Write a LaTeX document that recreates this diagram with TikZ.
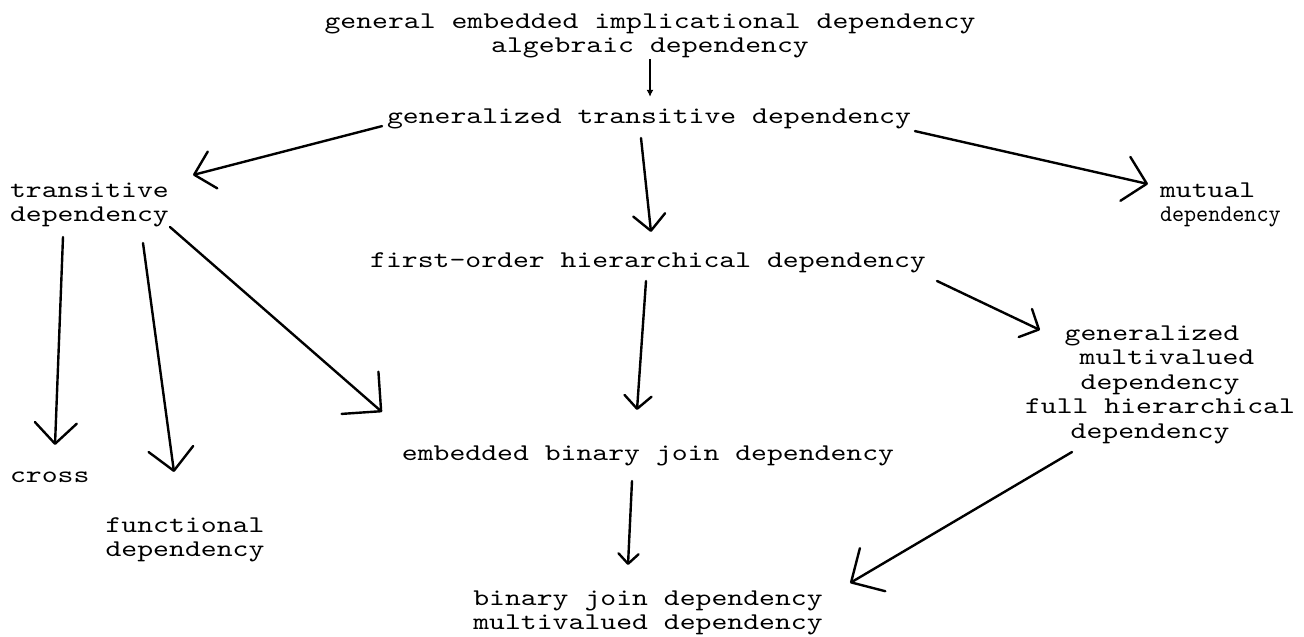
\documentclass[tikz,border=0pt]{standalone}
\usepackage{fontspec}
\usepackage{graphicx}
\usetikzlibrary{arrows.meta}
% wide typewriter face for all labels
\newfontfamily\dfont{lmmono10-regular.otf}[FakeStretch=1.26]
\begin{document}
\begin{tikzpicture}[x=1pt,y=-1pt,
  lbl/.style={font=\dfont\fontsize{24}{24.5}\selectfont, inner sep=0pt, outer sep=0pt},
  link/.style={line width=2.4pt, line cap=round, line join=round},
  barb/.style n args={2}{link, -{Straight Barb[length=#1pt,width=#2pt,line cap=round,line join=round]}}
]
\fill[white] (0,0) rectangle (1304,637);
\useasboundingbox (0,0) rectangle (1304,637);

% nodes (north anchor sits 0.7 baselineskip above the first baseline)
\node[lbl, align=center, anchor=north] (top) at (650,10.85)
  {\strut general embedded implicational dependency\\algebraic dependency\strut};
\node[lbl, anchor=north] (gtd) at (649,105.85) {\strut generalized transitive dependency};
\node[lbl, align=left, anchor=north west] (tr) at (10,179.85) {\strut transitive\\dependency\strut};
\node[lbl, align=left, anchor=north west] (mu) at (1160,179.85)
  {\strut mutual\\\scalebox{0.76}[1]{dependency}\strut};
\node[lbl, anchor=north] (fo) at (648,249.85) {\strut first-order hierarchical dependency};
\node[lbl, align=center, anchor=north] (gm) at (1160,322.85)
  {\strut generalized\hspace*{16pt}\\\hspace*{14pt}multivalued\\dependency\\full hierarchical\\dependency\hspace*{20pt}\strut};
\node[lbl, anchor=north] (eb) at (648,442.85) {\strut embedded binary join dependency};
\node[lbl, anchor=north west] (cr) at (10,464.85) {\strut cross};
\node[lbl, align=center, anchor=north] (fn) at (185,514.85) {\strut functional\\dependency\strut};
\node[lbl, align=center, anchor=north] (bj) at (648,587.85)
  {\strut binary join dependency\\multivalued dependency\strut};

% connectors
\draw[line width=2pt, -{Latex[length=7pt,width=7pt]}]
  ([shift={(0,-1)}]top.south) -- ([shift={(1,-9)}]gtd.north);
\draw[barb={19}{38}] ([shift={(-5,8)}]gtd.west) -- ([shift={(24.2,-4.85)}]tr.north east);
\draw[barb={22}{45}] ([shift={(4,13)}]gtd.east) -- ([shift={(-12,-20.35)}]mu.west);
\draw[barb={16}{32}] ([shift={(-8,7.65)}]gtd.south) -- ([shift={(3,-17.85)}]fo.north);
\draw[barb={21}{42}] ([shift={(53,8.15)}]tr.south west) -- ([shift={(45,-19.85)}]cr.north west);
\draw[barb={22}{45}] ([shift={(133,14.15)}]tr.south west) -- ([shift={(-11,-42.85)}]fn.north);
\draw[barb={28}{56}] ([shift={(1.2,-1.85)}]tr.south east) -- ([shift={(-19.9,-30.85)}]eb.north west);
\draw[barb={13}{27}] ([shift={(-2,6.65)}]fo.south) -- ([shift={(-11,-32.85)}]eb.north);
\draw[barb={15}{31}] ([shift={(11.2,6.65)}]fo.south east) -- ([shift={(-120,7.15)}]gm.north);
\draw[barb={10}{20}] ([shift={(-16,13.65)}]eb.south) -- ([shift={(-20,-22.85)}]bj.north);
\draw[barb={25}{50}] ([shift={(-88,6.65)}]gm.south) -- ([shift={(27.4,-4.85)}]bj.north east);
\end{tikzpicture}
\end{document}
